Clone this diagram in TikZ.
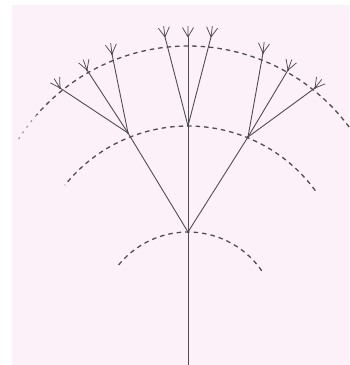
\documentclass[tikz,border=0pt]{standalone}
\definecolor{bg}{RGB}{252,241,248}
\definecolor{ink}{RGB}{80,76,80}
\begin{document}
\begin{tikzpicture}[x=1pt,y=1pt,
  stem/.style={draw=ink,line width=0.9pt},
  prong/.style={draw=ink,line width=0.75pt},
  arcline/.style={draw=ink,line width=1.3pt,dash pattern=on 4.5pt off 4pt},
  faint/.style={draw=ink!60,line width=1.1pt,dash pattern=on 2pt off 5pt},
  dotnode/.style={fill=ink,circle,inner sep=0pt,minimum size=2.4pt}]
\fill[white] (0,0) rectangle (349,365);
\fill[bg] (12,0) rectangle (349,360);
\useasboundingbox (0,0) rectangle (349,365);
% arcs
\draw[arcline] (188,43.5) ++(34.5:89.5) arc[start angle=34.5,end angle=142.5,radius=89.5];
\draw[arcline] (188,81.3) ++(36.2:157.7) arc[start angle=36.2,end angle=141.3,radius=157.7];
\draw[arcline] (188,118.3) ++(36.6:200.7) arc[start angle=36.6,end angle=139,radius=200.7];
\draw[faint] (188,118.3) ++(139:200.7) arc[start angle=139,end angle=148,radius=200.7];
% nodes
\coordinate (bot) at (188,0);
\node[dotnode] (root) at (188,133) {};
\node[dotnode] (L) at (128,232) {};
\node[dotnode] (M) at (188,239) {};
\node[dotnode] (R) at (248,228) {};
\coordinate (a1) at (60,277);
\coordinate (a2) at (87,295);
\coordinate (a3) at (112,311);
\coordinate (b1) at (165,328);
\coordinate (b2) at (188,328);
\coordinate (b3) at (211,328);
\coordinate (c1) at (263,312);
\coordinate (c2) at (288,295);
\coordinate (c3) at (315,277);
% stems
\draw[stem] (bot) -- (root.center);
\draw[stem] (root.center) -- (L.center);
\draw[stem] (root.center) -- (M.center);
\draw[stem] (root.center) -- (R.center);
\foreach \p/\q in {L/a1,L/a2,L/a3,M/b1,M/b2,M/b3,R/c1,R/c2,R/c3}
  \draw[stem] (\p.center) -- (\q);
% forks
\foreach \q/\ang in {a1/122,a2/110,a3/97,b1/97,b2/90,b3/83,c1/84,c2/70,c3/52}
  \draw[prong] (\q) -- ++(\ang-30:11) (\q) -- ++(\ang:11) (\q) -- ++(\ang+30:11);
\foreach \q in {a1,a2,a3,c1,c2,c3}
  \fill[ink] (\q) circle[radius=1.2pt];
\end{tikzpicture}
\end{document}
